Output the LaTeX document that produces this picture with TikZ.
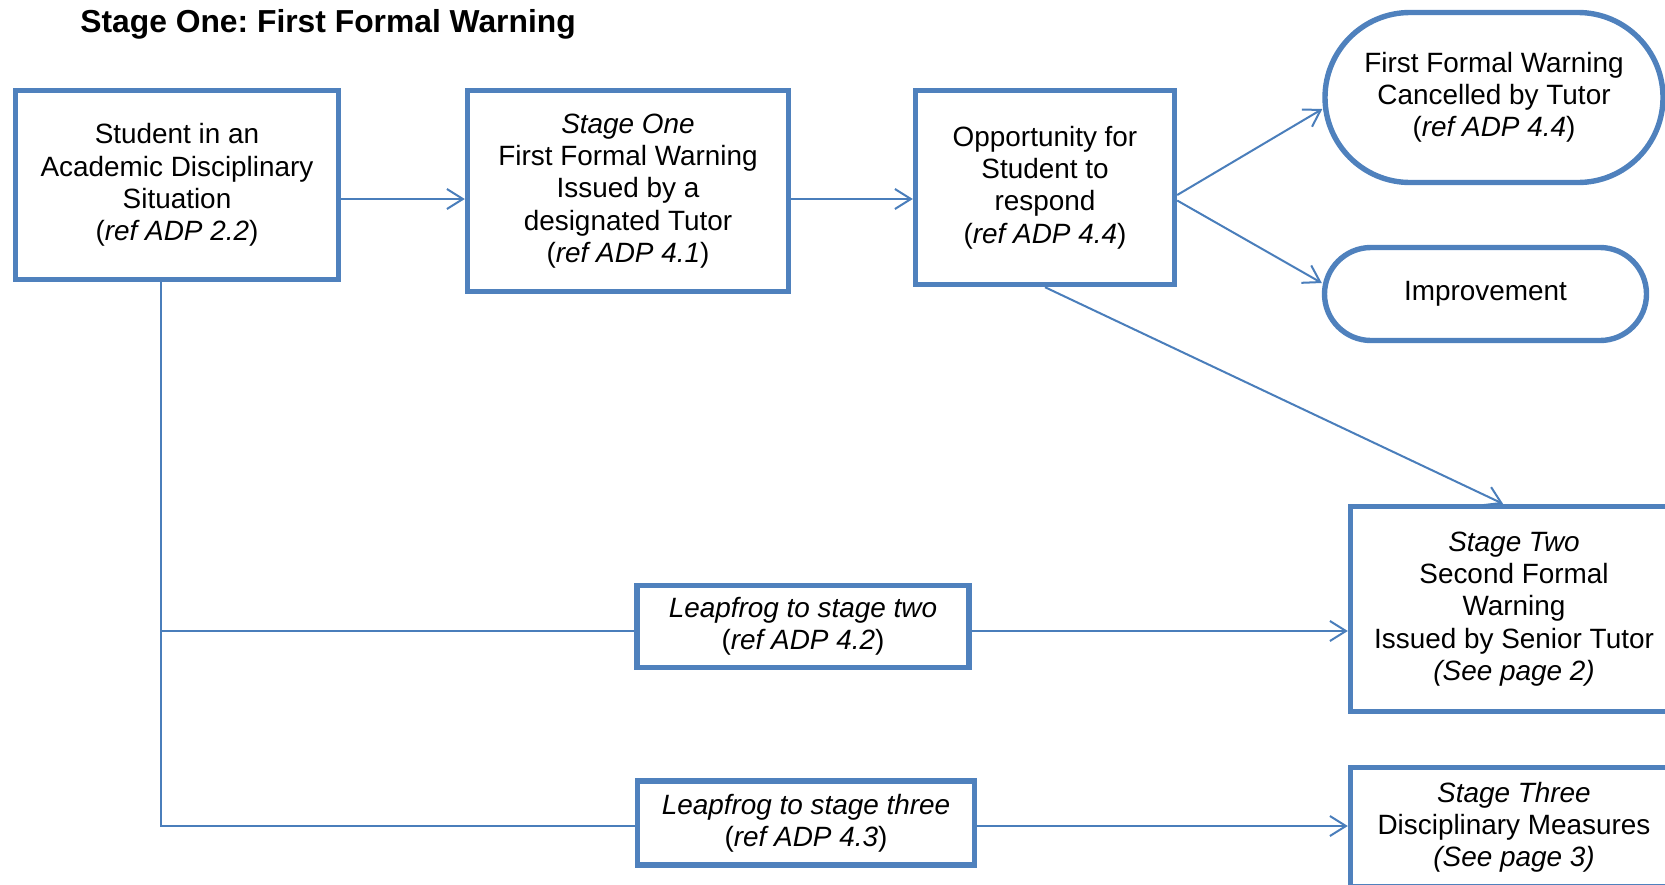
\documentclass[tikz,border=0pt]{standalone}
\usepackage{fontspec}
\setmainfont{Liberation Sans}
\usepackage{tikz}
\usetikzlibrary{arrows.meta, positioning, shapes.misc}
\definecolor{boxblue}{HTML}{4F81BD}
\definecolor{linkblue}{HTML}{4A7EBB}
\frenchspacing

\begin{document}
\begin{tikzpicture}[
      x=0.5pt, y=-0.5pt,
      box/.style={draw=boxblue, line width=2.7pt, align=center, inner sep=2pt, font=\fontsize{13.95}{16.1}\selectfont},
      pill/.style={box, rounded rectangle},
      link/.style={draw=linkblue, line width=1pt},
      arr/.style={link, -{Straight Barb[length=8pt, width=10pt]}}
    ]
    \clip (0,0) rectangle (1665,884);
    \node[anchor=base west, inner sep=0pt, font=\fontsize{15.9}{18}\selectfont\bfseries] (title) at (80,32) {Stage One: First Formal Warning};

    \node[box, minimum width=161.5pt, minimum height=94.5pt] (student) at (177,185) {Student in an\\Academic Disciplinary\\Situation\\(\textit{ref ADP 2.2})};
    \node[box, minimum width=160.5pt, minimum height=100.5pt] (sone) at (628,191) {\textit{Stage One}\\First Formal Warning\\Issued by a\\designated Tutor\\(\textit{ref ADP 4.1})};
    \node[box, minimum width=129.5pt, minimum height=97pt] (opp) at (1045,187.5) {Opportunity for\\Student to\\respond\\(\textit{ref ADP 4.4})};
    \node[pill, minimum width=173pt, minimum height=85pt] (cancel) at (1494,97.5) {First Formal Warning\\Cancelled by Tutor\\(\textit{ref ADP 4.4})};
    \node[pill, minimum width=165pt, minimum height=46.5pt] (improve) at (1485.5,294) {Improvement};
    \node[box, minimum width=163.5pt, minimum height=102.5pt] (stwo) at (1514,609) {\textit{Stage Two}\\Second Formal\\Warning\\Issued by Senior Tutor\\\textit{(See page 2)}};
    \node[box, minimum width=163.5pt, minimum height=59.5pt] (sthree) at (1514,827) {\textit{Stage Three}\\Disciplinary Measures\\\textit{(See page 3)}};
    \node[box, minimum width=166pt, minimum height=41pt] (leaptwo) at (803,626.5) {\textit{Leapfrog to stage two}\\(\textit{ref ADP 4.2})};
    \node[box, minimum width=168.5pt, minimum height=42pt] (leapthree) at (806,823) {\textit{Leapfrog to stage three}\\(\textit{ref ADP 4.3})};

    % connector rows
    \coordinate (rowA) at (0,199);
    \coordinate (rowB) at (0,631);
    \coordinate (trunk) at (161,826);

    \draw[arr] (student.east |- rowA) -- (sone.west |- rowA);
    \draw[arr] (sone.east |- rowA) -- (opp.west |- rowA);
    \draw[arr] ([yshift=-3.75pt]opp.east) -- ([yshift=-5.75pt]cancel.west);
    \draw[arr] ([yshift=-6.5pt]opp.east) -- ([yshift=5.5pt]improve.west);
    \draw[arr] (opp.south) -- ([xshift=-5.5pt]stwo.north);

    \draw[link] (student.south -| trunk) -- (trunk) -- (trunk -| leapthree.west);
    \draw[link] (trunk |- rowB) -- (leaptwo.west |- rowB);
    \draw[arr] (leaptwo.east |- rowB) -- (stwo.west |- rowB);
    \draw[arr] (leapthree.east |- trunk) -- (sthree.west |- trunk);
  \end{tikzpicture}
\end{document}
